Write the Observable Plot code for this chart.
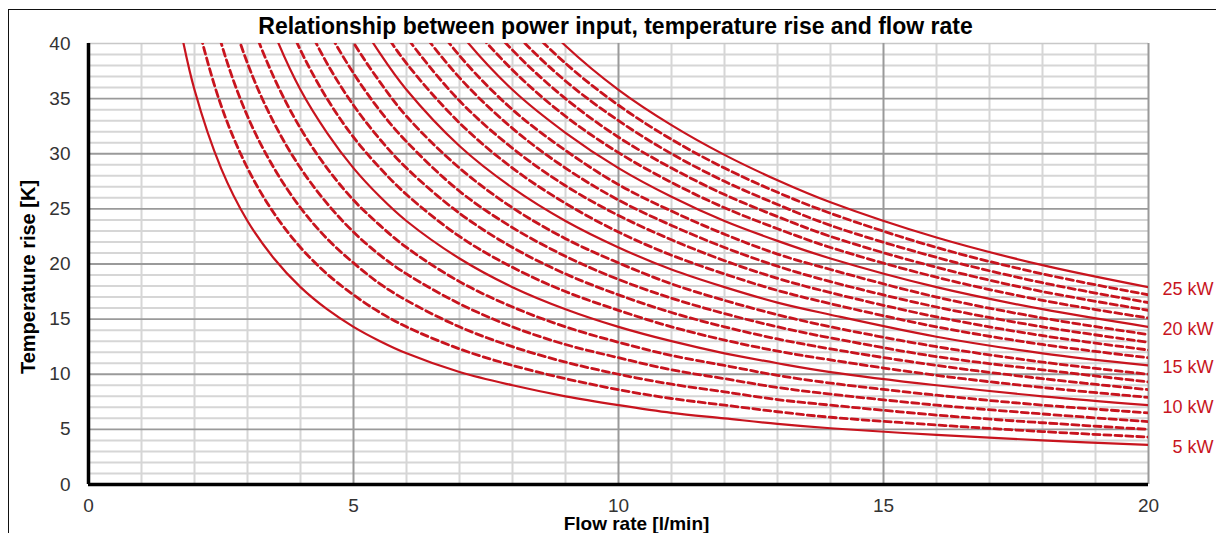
<!DOCTYPE html>
<html>
<head>
<meta charset="utf-8">
<script src="https://cdn.jsdelivr.net/npm/d3@7"></script>
<script src="https://cdn.jsdelivr.net/npm/@observablehq/plot@0.6"></script>
<style>
  html, body { margin: 0; padding: 0; background: #fff; overflow: hidden; }
  #wrap { position: relative; width: 1216px; height: 533px; }
  #frame { position: absolute; left: 8px; top: 9px; width: 1300px; height: 600px;
           border-left: 1.5px solid #111; border-top: 1.5px solid #111; pointer-events: none; }
  #chart { position: absolute; left: 0; top: 0; }
  #chart g[aria-label="x-axis tick label"] text,
  #chart g[aria-label="y-axis tick label"] text { font-size: 19px; fill: #333; }
</style>
</head>
<body>
<div id="wrap"><div id="chart"></div><div id="frame"></div></div>
<script>
// Flow rate sample points [l/min]
const flows = [1.5,1.7,2,2.5,3,3.5,4,4.5,5,5.5,6,7,8,9,10,11,12,13,14,16,18,20];
// Power input curves [kW]
const powers = [5,6,7,8,9,10,11,12,13,14,15,16,17,18,19,20,21,22,23,24,25];
// Temperature rise [K] at the flow points above
const t5  = [47.8,42.2,35.8,28.7,23.9,20.5,17.9,15.9,14.3,13.0,11.9,10.2,9.0,8.0,7.2,6.5,6.0,5.5,5.1,4.5,4.0,3.6];
const t6  = [57.3,50.6,43.0,34.4,28.7,24.6,21.5,19.1,17.2,15.6,14.3,12.3,10.8,9.6,8.6,7.8,7.2,6.6,6.1,5.4,4.8,4.3];
const t7  = [null,59.0,50.2,40.1,33.4,28.7,25.1,22.3,20.1,18.2,16.7,14.3,12.5,11.1,10.0,9.1,8.4,7.7,7.2,6.3,5.6,5.0];
const t8  = [null,null,57.3,45.9,38.2,32.8,28.7,25.5,22.9,20.8,19.1,16.4,14.3,12.7,11.5,10.4,9.6,8.8,8.2,7.2,6.4,5.7];
const t9  = [null,null,64.5,51.6,43.0,36.9,32.3,28.7,25.8,23.5,21.5,18.4,16.1,14.3,12.9,11.7,10.8,9.9,9.2,8.1,7.2,6.5];
const t10 = [null,null,null,57.3,47.8,41.0,35.8,31.9,28.7,26.1,23.9,20.5,17.9,15.9,14.3,13.0,11.9,11.0,10.2,9.0,8.0,7.2];
const t11 = [null,null,null,63.1,52.6,45.0,39.4,35.0,31.5,28.7,26.3,22.5,19.7,17.5,15.8,14.3,13.1,12.1,11.3,9.9,8.8,7.9];
const t12 = [null,null,null,null,57.3,49.1,43.0,38.2,34.4,31.3,28.7,24.6,21.5,19.1,17.2,15.6,14.3,13.2,12.3,10.8,9.6,8.6];
const t13 = [null,null,null,null,62.1,53.2,46.6,41.4,37.3,33.9,31.1,26.6,23.3,20.7,18.6,16.9,15.5,14.3,13.3,11.6,10.4,9.3];
const t14 = [null,null,null,null,null,57.3,50.2,44.6,40.1,36.5,33.4,28.7,25.1,22.3,20.1,18.2,16.7,15.4,14.3,12.5,11.1,10.0];
const t15 = [null,null,null,null,null,61.4,53.8,47.8,43.0,39.1,35.8,30.7,26.9,23.9,21.5,19.5,17.9,16.5,15.4,13.4,11.9,10.8];
const t16 = [null,null,null,null,null,null,57.3,51.0,45.9,41.7,38.2,32.8,28.7,25.5,22.9,20.8,19.1,17.6,16.4,14.3,12.7,11.5];
const t17 = [null,null,null,null,null,null,60.9,54.1,48.7,44.3,40.6,34.8,30.5,27.1,24.4,22.2,20.3,18.7,17.4,15.2,13.5,12.2];
const t18 = [null,null,null,null,null,null,64.5,57.3,51.6,46.9,43.0,36.9,32.3,28.7,25.8,23.5,21.5,19.8,18.4,16.1,14.3,12.9];
const t19 = [null,null,null,null,null,null,null,60.5,54.5,49.5,45.4,38.9,34.0,30.3,27.2,24.8,22.7,20.9,19.5,17.0,15.1,13.6];
const t20 = [null,null,null,null,null,null,null,63.7,57.3,52.1,47.8,41.0,35.8,31.9,28.7,26.1,23.9,22.1,20.5,17.9,15.9,14.3];
const t21 = [null,null,null,null,null,null,null,null,60.2,54.7,50.2,43.0,37.6,33.4,30.1,27.4,25.1,23.2,21.5,18.8,16.7,15.1];
const t22 = [null,null,null,null,null,null,null,null,63.1,57.3,52.6,45.0,39.4,35.0,31.5,28.7,26.3,24.3,22.5,19.7,17.5,15.8];
const t23 = [null,null,null,null,null,null,null,null,null,59.9,54.9,47.1,41.2,36.6,33.0,30.0,27.5,25.4,23.5,20.6,18.3,16.5];
const t24 = [null,null,null,null,null,null,null,null,null,62.5,57.3,49.1,43.0,38.2,34.4,31.3,28.7,26.5,24.6,21.5,19.1,17.2];
const t25 = [null,null,null,null,null,null,null,null,null,65.2,59.7,51.2,44.8,39.8,35.8,32.6,29.9,27.6,25.6,22.4,19.9,17.9];
const labeledPowers = [5,10,15,20,25];
const xTicks = [0,5,10,15,20];
const yTicks = [0,5,10,15,20,25,30,35,40];
const title = "Relationship between power input, temperature rise and flow rate";
const xLabel = "Flow rate [l/min]";
const yLabel = "Temperature rise [K]";

const series = [t5,t6,t7,t8,t9,t10,t11,t12,t13,t14,t15,t16,t17,t18,t19,t20,t21,t22,t23,t24,t25];
const rows = [];
powers.forEach((p, k) => {
  series[k].forEach((t, i) => {
    if (t != null) rows.push({power: p, flow: flows[i], temp: t, solid: labeledPowers.includes(p)});
  });
});
const solidRows = rows.filter(d => d.solid);
const dashRows = rows.filter(d => !d.solid);
const endRows = solidRows.filter(d => d.flow === 20);

const red = "#c8141e";
const xMinor = d3.range(0, 21).filter(v => v % 5 !== 0);
const yMinor = d3.range(0, 41).filter(v => v % 5 !== 0);

const plot = Plot.plot({
  width: 1216,
  height: 533,
  marginLeft: 88,
  marginRight: 68,
  marginTop: 43,
  marginBottom: 49,
  style: {fontFamily: "'Liberation Sans', Arial, sans-serif", background: "white", color: "#333", fontSize: "19px"},
  x: {domain: [0, 20]},
  y: {domain: [0, 40]},
  marks: [
    Plot.ruleX(xMinor, {stroke: "#d6d6d6", strokeWidth: 2}),
    Plot.ruleY(yMinor, {stroke: "#d6d6d6", strokeWidth: 2}),
    Plot.ruleY([40], {stroke: "#c8c8c8", strokeWidth: 1.5}),
    Plot.ruleX([5, 10, 15], {stroke: "#9a9a9a", strokeWidth: 2}),
    Plot.ruleY([5, 10, 15, 20, 25, 30, 35], {stroke: "#9a9a9a", strokeWidth: 1.8}),
    Plot.ruleX([20], {stroke: "#9a9a9a", strokeWidth: 2}),
    Plot.line(dashRows, {x: "flow", y: "temp", z: "power", stroke: red, strokeWidth: 2.8,
      strokeDasharray: "7,4", curve: "catmull-rom", clip: true}),
    Plot.line(solidRows, {x: "flow", y: "temp", z: "power", stroke: red, strokeWidth: 2.2,
      curve: "catmull-rom", clip: true}),
    Plot.ruleX([0], {stroke: "#000", strokeWidth: 3.5}),
    Plot.ruleY([0], {stroke: "#000", strokeWidth: 3.5}),
    Plot.axisX({ticks: xTicks, tickSize: 0, tickPadding: 14, fontSize: 19, label: null, tickFormat: d => d}),
    Plot.axisY({ticks: yTicks, tickSize: 0, tickPadding: 18, fontSize: 19, label: null, tickFormat: d => d}),
    Plot.text(endRows, {x: "flow", y: "temp", text: d => d.power + " kW", fill: red, fontSize: 18,
      textAnchor: "end", dx: 65, dy: 2}),
    Plot.text([title], {frameAnchor: "top", lineAnchor: "middle", dy: -17, dx: -3, fontSize: 23, fontWeight: "bold", fill: "#000"}),
    Plot.text([xLabel], {frameAnchor: "bottom", lineAnchor: "middle", dy: 39, dx: 18, fontSize: 19, fontWeight: "bold", fill: "#000"}),
    Plot.text([yLabel], {frameAnchor: "left", textAnchor: "middle", lineAnchor: "middle", dx: -60, dy: 13, rotate: -90, fontSize: 20, fontWeight: "bold", fill: "#000"})
  ]
});
document.getElementById("chart").appendChild(plot);
</script>
</body>
</html>
